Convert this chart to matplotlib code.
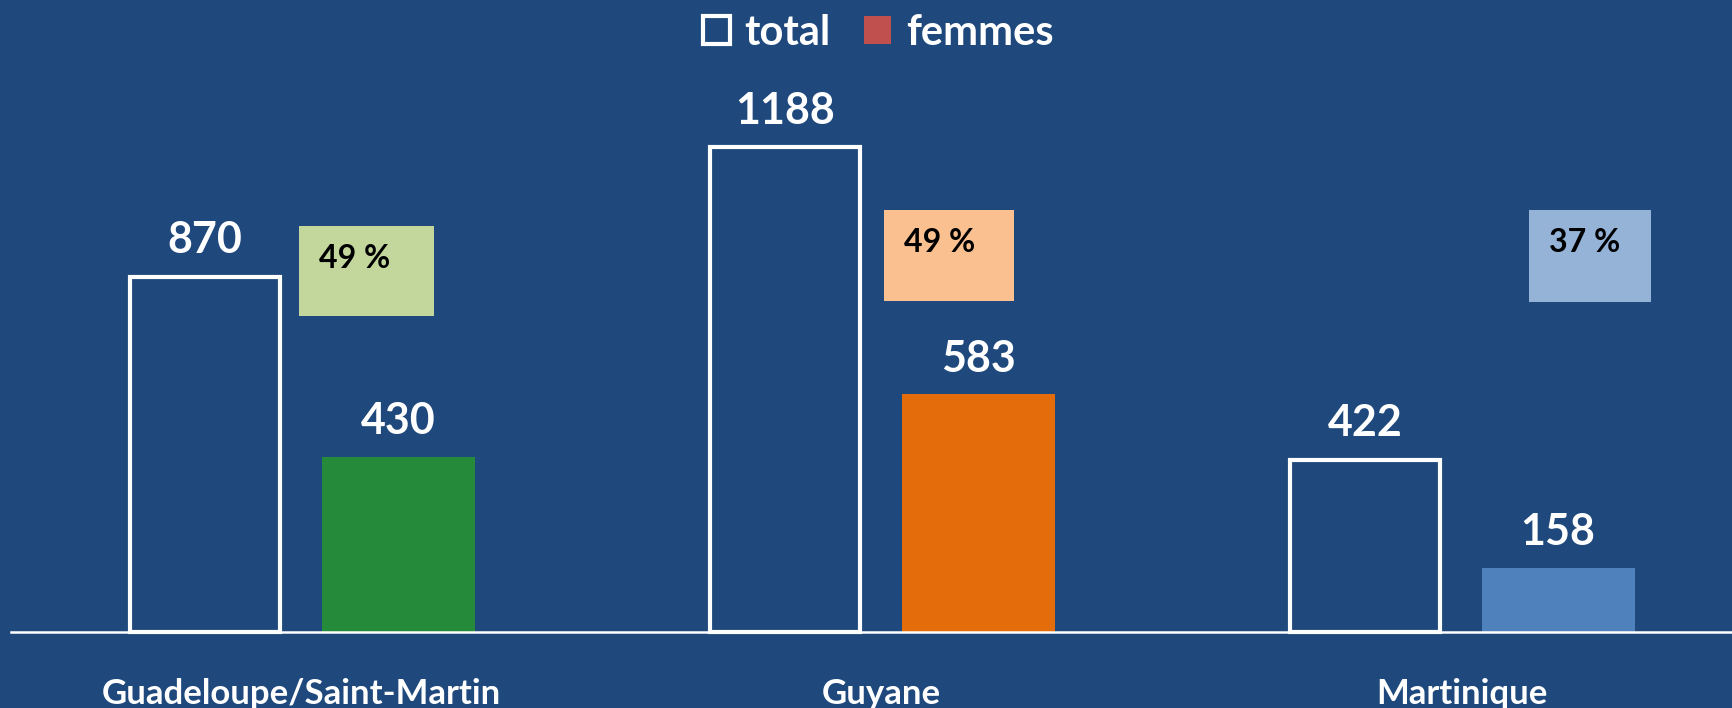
import numpy as np
import matplotlib
matplotlib.use('Agg')
import matplotlib.pyplot as plt
from matplotlib.patches import Patch, Rectangle

plt.rcParams['font.family'] = ['Lato', 'DejaVu Sans']

# data
regions = ['Guadeloupe/Saint-Martin', 'Guyane', 'Martinique']
total = [870, 1188, 422]
femmes = [430, 583, 158]
shares = ['49 %', '49 %', '37 %']

bg = '#1F497D'
femmes_colors = ['#268A3B', '#E46C0A', '#4F81BD']
share_colors = ['#C3D69B', '#FAC090', '#95B3D7']
# share boxes in figure pixels (left, top, width, height)
share_boxes = [(299, 226, 135, 90), (884, 210, 130, 91), (1529, 210, 122, 92)]

W, H = 1733, 708
fig = plt.figure(figsize=(W / 100, H / 100), dpi=100, facecolor=bg)
ax = fig.add_axes([11 / W, (H - 632) / H, 1 - 11 / W, 632 / H])
ax.set_facecolor(bg)

x = np.arange(len(regions))
off = 0.1665
bw = 0.258
ax.bar(x - off, total, bw, facecolor='none', edgecolor='white', linewidth=3, clip_on=False)
ax.bar(x + off, femmes, bw + 0.006, color=femmes_colors, linewidth=0)

for i in range(len(regions)):
    ax.annotate(str(total[i]), (x[i] - off, total[i]), xytext=(0, 17), textcoords='offset points',
                ha='center', va='baseline', color='white', fontsize=31, fontweight='bold')
    ax.annotate(str(femmes[i]), (x[i] + off, femmes[i]), xytext=(0, 16), textcoords='offset points',
                ha='center', va='baseline', color='white', fontsize=31, fontweight='bold')

ax.set_xlim(-0.501, 2.468)
ax.set_ylim(0, 632 / 0.408)
for s in ['top', 'right', 'left']:
    ax.spines[s].set_visible(False)
ax.spines['bottom'].set_color('white')
ax.spines['bottom'].set_linewidth(1.8)
ax.set_yticks([])
ax.set_xticks(x)
ax.set_xticklabels(regions, color='white', fontsize=25, fontweight='bold')
ax.tick_params(axis='x', length=0, pad=33)

# share boxes
for (l, t, w, h), c, s in zip(share_boxes, share_colors, shares):
    fig.add_artist(Rectangle((l / W, 1 - (t + h) / H), w / W, h / H, transform=fig.transFigure,
                             facecolor=c, edgecolor='none'))
    fig.text((l + 20) / W, 1 - (t + 33) / H, s, ha='left', va='center', fontsize=23,
             fontweight='bold', color='black')

handles = [Patch(facecolor='none', edgecolor='white', linewidth=3),
           Patch(facecolor='#C0504D', edgecolor='none')]
fig.legend(handles, ['total', 'femmes'], loc='center', bbox_to_anchor=(878 / W, 1 - 33 / H),
           ncol=2, frameon=False, labelcolor='white',
           prop={'weight': 'bold', 'size': 30},
           handlelength=0.65, handleheight=0.65, handletextpad=0.35, columnspacing=0.8)

fig.savefig('out.png', dpi=100, facecolor=bg)
